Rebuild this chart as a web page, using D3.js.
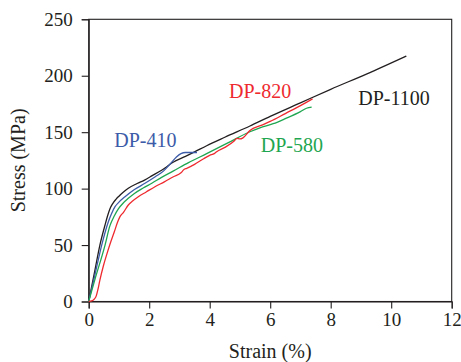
<!DOCTYPE html>
<html><head><meta charset="utf-8">
<script src="https://cdn.jsdelivr.net/npm/d3@7"></script>
<style>html,body{margin:0;padding:0;background:#fff;}svg{display:block;}</style>
</head><body>
<script>
// Data (strain %, stress MPa)
const xTicks = [0, 2, 4, 6, 8, 10, 12];
const yTicks = [0, 50, 100, 150, 200, 250];

const dp1100 = [[0,0],[0.2,27],[0.37,50],[0.54,67.8],[0.62,75.5],[0.7,82],[0.8,87],[0.9,90.5],[1.0,93.3],[1.15,97],[1.31,100.3],[1.6,104.5],[1.86,107.8],[2.1,111.5],[2.41,116.3],[2.58,119.4],[2.79,123.3],[3.2,128.5],[3.5,132.5],[3.9,138],[4.5,145.5],[5.33,155.5],[6,164],[7,176],[8,188],[9.18,201.5],[10.5,217.5]];
const dp410 = [[0,0],[0.2,23],[0.43,50],[0.65,70.7],[0.75,77.5],[0.87,84],[1.0,88],[1.2,92.8],[1.5,99],[1.86,104.7],[2.2,110.5],[2.47,115.5],[2.7,122],[2.9,128],[3.05,131],[3.2,132],[3.5,132],[3.58,132]];
const dp580 = [[0,0],[0.2,19],[0.54,50],[0.7,67],[0.85,76],[0.98,82],[1.15,87.5],[1.31,91.4],[1.5,95.5],[1.8,100.5],[2.1,105],[2.41,110],[2.79,115.5],[3.3,123],[3.9,131],[4.6,140.5],[5.33,150.4],[5.66,153.8],[6.1,157.5],[6.5,162],[7.0,168.2],[7.2,171.2],[7.37,172.2]];
const dp820 = [[0,0],[0.1,0.5],[0.18,2],[0.25,5],[0.3,10],[0.37,19],[0.48,31],[0.6,42],[0.7,50.5],[0.85,62],[0.95,70],[1.03,75],[1.15,79],[1.31,85.5],[1.45,89],[1.64,92.8],[1.9,97],[2.19,101.7],[2.5,106],[2.8,110.5],[3.05,114],[3.15,117],[3.24,118],[3.5,121.5],[3.8,126.5],[4.0,129.5],[4.15,131],[4.23,132.7],[4.5,136.5],[4.8,142],[4.9,144.5],[5.0,144],[5.1,145],[5.33,151.5],[5.7,156],[6.0,159.5],[6.5,166.5],[7.0,173.5],[7.4,179.5]];

const seriesNames = ["DP-1100","DP-410","DP-580","DP-820"];
const seriesColors = ["#231f20","#3c5ba8","#1fa650","#ee2a2f"];
const seriesData = [dp1100, dp410, dp580, dp820];
const labelPos = [[358.3,105],[114.3,147],[260.7,151.5],[229,97.5]];

const W = 461, H = 362;
const m = {left: 88.7, top: 19.3, right: W - 451.7, bottom: H - 301.5};
const svg = d3.select("body").append("svg").attr("width", W).attr("height", H);
const x = d3.scaleLinear().domain([0, 12]).range([m.left, W - m.right]);
const y = d3.scaleLinear().domain([0, 250]).range([H - m.bottom, m.top]);
const font = "'Liberation Serif', 'Times New Roman', serif";
const axCol = "#231f20";

// frame
svg.append("rect").attr("x", x(0)).attr("y", y(250)).attr("width", x(12) - x(0)).attr("height", y(0) - y(250))
  .attr("fill", "none").attr("stroke", axCol).attr("stroke-width", 1.1);

const gx = svg.append("g").attr("transform", `translate(0,${y(0)})`)
  .call(d3.axisBottom(x).tickValues(xTicks).tickSize(7).tickPadding(4).tickFormat(d3.format("d")));
const gy = svg.append("g").attr("transform", `translate(${x(0)},0)`)
  .call(d3.axisLeft(y).tickValues(yTicks).tickSize(7).tickPadding(9).tickFormat(d3.format("d")));
[gx, gy].forEach(g => {
  g.select(".domain").attr("stroke", axCol).attr("stroke-width", 1.1);
  g.selectAll(".tick line").attr("stroke", axCol).attr("stroke-width", 1.1);
  g.selectAll(".tick text").attr("fill", axCol).style("font-family", font).style("font-size", "19px");
});

const line = d3.line().x(d => x(d[0])).y(d => y(d[1])).curve(d3.curveMonotoneX);
seriesData.forEach((s, i) => {
  svg.append("path").datum(s).attr("d", line).attr("fill", "none")
    .attr("stroke", seriesColors[i]).attr("stroke-width", 1.3);
});
seriesNames.forEach((n, i) => {
  svg.append("text").attr("x", labelPos[i][0]).attr("y", labelPos[i][1]).text(n)
    .attr("fill", seriesColors[i]).style("font-family", font).style("font-size", "20px");
});

svg.append("text").attr("x", (x(0) + x(12)) / 2).attr("y", 358).attr("text-anchor", "middle")
  .text("Strain (%)").attr("fill", axCol).style("font-family", font).style("font-size", "20px");
svg.append("text").attr("transform", `translate(25,${(y(0) + y(250)) / 2}) rotate(-90)`).attr("text-anchor", "middle")
  .text("Stress (MPa)").attr("fill", axCol).style("font-family", font).style("font-size", "20px");
</script>
</body></html>
